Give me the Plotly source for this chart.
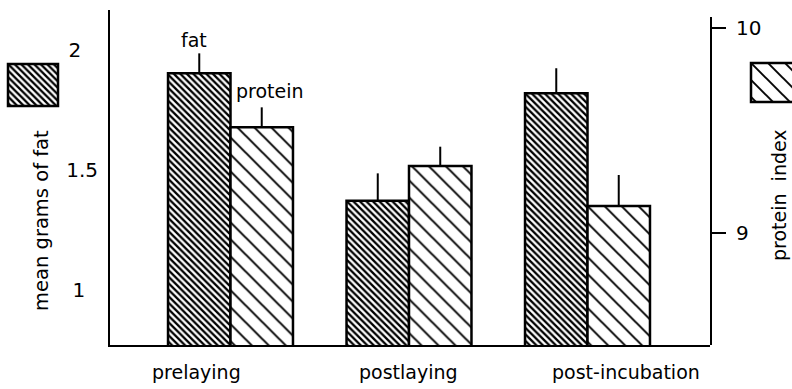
import plotly.graph_objects as go

# ---- data ----
categories = ["prelaying", "postlaying", "post-incubation"]
fat_mean = [1.903, 1.372, 1.820]
fat_err = [0.083, 0.114, 0.104]
protein_index = [9.516, 9.327, 9.132]
protein_err = [0.097, 0.094, 0.151]
left_ticks = [1, 1.5, 2]
left_ticktext = ["1\u00a0\u00a0", "1.5", "2\u00a0\u00a0\u2009"]
right_ticks = [9, 10]
right_ticktext = ["9", "10"]
swatch = [1]

W, H = 792, 389
FONT = "DejaVu Sans"

def px_x(p):
    return p / W

def px_y(p):
    return (H - p) / H

fat_pattern = dict(shape="\\", size=4.6, solidity=0.5, fgcolor="black", bgcolor="white", fillmode="replace")
prot_pattern = dict(shape="\\", size=12, solidity=0.16, fgcolor="black", bgcolor="white", fillmode="replace")

bw = 0.35
outline = dict(color="black", width=2.5)

fig = go.Figure()
fig.add_trace(go.Bar(
    x=categories, y=fat_mean, xaxis="x", yaxis="y",
    width=[bw] * 3, offset=[-bw] * 3,
    marker=dict(color="white", pattern=fat_pattern, line=outline),
    error_y=dict(type="data", symmetric=False, array=fat_err, arrayminus=[0] * 3,
                 width=0, thickness=2, color="black"),
    showlegend=False,
))
fig.add_trace(go.Bar(
    x=categories, y=protein_index, xaxis="x", yaxis="y2",
    width=[bw] * 3, offset=[0] * 3,
    marker=dict(color="white", pattern=prot_pattern, line=outline),
    error_y=dict(type="data", symmetric=False, array=protein_err, arrayminus=[0] * 3,
                 width=0, thickness=2, color="black"),
    showlegend=False,
))
# key swatches
fig.add_trace(go.Bar(x=[0], y=swatch, xaxis="x2", yaxis="y3", width=[1],
                     marker=dict(color="white", pattern=fat_pattern, line=outline),
                     showlegend=False, hoverinfo="skip"))
fig.add_trace(go.Bar(x=[0], y=swatch, xaxis="x3", yaxis="y4", width=[1],
                     marker=dict(color="white", pattern=prot_pattern, line=outline),
                     showlegend=False, hoverinfo="skip"))

x_left, x_right = 110, 710
unit = 178.5
c0 = 230.5
ann = []
# category labels
label_shift = [-34.5, -1, 38.5]
for c, s in zip(categories, label_shift):
    ann.append(dict(x=c, xref="x", y=px_y(372), yref="paper", yanchor="middle",
                    xshift=s, text=c, showarrow=False, font=dict(family=FONT, size=19, color="black")))
# series labels
ann.append(dict(x=categories[0], xref="x", y=fat_mean[0] + fat_err[0], yref="y",
                yanchor="bottom", xshift=-bw * unit / 2 - 5, yshift=0, text="fat", showarrow=False,
                font=dict(family=FONT, size=19, color="black")))
ann.append(dict(x=categories[0], xref="x", y=protein_index[0] + protein_err[0], yref="y2",
                yanchor="bottom", xshift=bw * unit / 2 + 8, yshift=3, text="protein", showarrow=False,
                font=dict(family=FONT, size=19, color="black")))
# axis titles
ann.append(dict(x=px_x(42), y=px_y(221), xref="paper", yref="paper", text="mean grams of fat",
                textangle=-90, showarrow=False, xanchor="center", yanchor="middle",
                font=dict(family=FONT, size=19.5, color="black")))
ann.append(dict(x=px_x(779), y=px_y(195), xref="paper", yref="paper", text="protein\u00a0 index",
                textangle=-90, showarrow=False, xanchor="center", yanchor="middle",
                font=dict(family=FONT, size=19, color="black")))

fig.update_layout(
    width=W, height=H,
    margin=dict(l=0, r=0, t=0, b=0),
    paper_bgcolor="white", plot_bgcolor="rgba(0,0,0,0)",
    barmode="overlay",
    font=dict(family=FONT, size=20, color="black"),
    annotations=ann,
    xaxis=dict(domain=[px_x(x_left), px_x(x_right)], anchor="y", type="category",
               range=[(x_left - c0) / unit, (x_right - c0) / unit],
               showline=True, linecolor="black", linewidth=2, showticklabels=False,
               ticks="", showgrid=False, zeroline=False),
    yaxis=dict(domain=[px_y(345), px_y(10)], anchor="x",
               range=[1 - (345 - 290) / 240, 2 + (50 - 10) / 240],
               tickvals=left_ticks, ticktext=left_ticktext,
               ticks="outside", ticklen=6, tickcolor="rgba(0,0,0,0)",
               showline=True, linecolor="black", linewidth=2, showgrid=False, zeroline=False,
               tickfont=dict(family=FONT, size=20, color="black")),
    yaxis2=dict(domain=[px_y(345), px_y(17)], anchor="x", side="right",
                range=[9 - (345 - 233) / 205, 10 + (28 - 17) / 205],
                tickvals=right_ticks, ticktext=right_ticktext,
                ticks="outside", ticklen=14, tickwidth=2, tickcolor="black",
                ticklabelstandoff=6,
                showline=True, linecolor="black", linewidth=2, showgrid=False, zeroline=False,
                tickfont=dict(family=FONT, size=20, color="black")),
    xaxis2=dict(domain=[px_x(6), px_x(60)], anchor="y3", range=[-0.54, 0.54], visible=False),
    yaxis3=dict(domain=[px_y(108), px_y(62)], anchor="x2", range=[-2 / 42, 1 + 2 / 42], visible=False),
    xaxis3=dict(domain=[px_x(749), 1.0], anchor="y4", range=[-0.54, -0.54 + 43 / 50], visible=False),
    yaxis4=dict(domain=[px_y(104), px_y(61)], anchor="x3", range=[-2 / 39, 1 + 2 / 39], visible=False),
)

fig.write_html("out.html")
